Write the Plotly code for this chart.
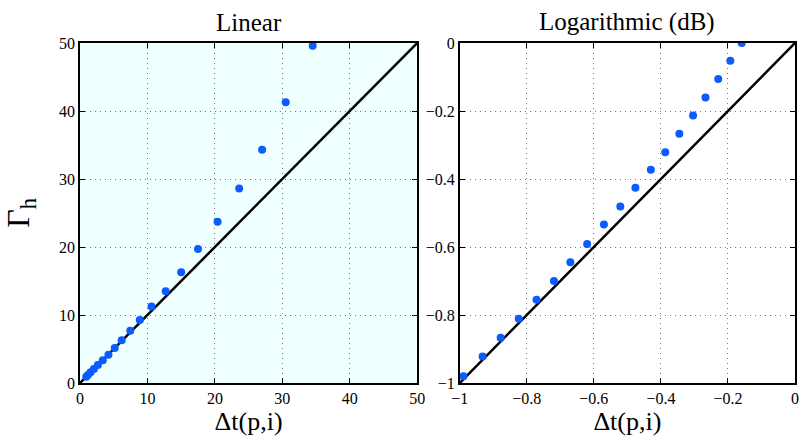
import plotly.graph_objects as go

# Linear panel data
lin_x = [0.93, 1.18, 1.57, 2.06, 2.65, 3.38, 4.22, 5.15, 6.18, 7.45, 8.87, 10.6, 12.7,
         15.0, 17.5, 20.4, 23.6, 27.0, 30.5, 34.5]
lin_y = [0.93, 1.18, 1.58, 2.06, 2.65, 3.35, 4.17, 5.16, 6.3, 7.67, 9.25, 11.25, 13.5,
         16.3, 19.7, 23.7, 28.6, 34.3, 41.3, 49.6]

# Logarithmic panel data
log_x = [-0.989, -0.932, -0.878, -0.824, -0.771, -0.719, -0.670, -0.620, -0.570, -0.521,
         -0.476, -0.430, -0.387, -0.345, -0.304, -0.267, -0.229, -0.193, -0.159]
log_y = [-0.980, -0.922, -0.867, -0.811, -0.755, -0.700, -0.645, -0.591, -0.534, -0.481,
         -0.426, -0.373, -0.321, -0.267, -0.213, -0.160, -0.106, -0.052, 0.0]

lin_ref = [0, 50]
log_ref = [-1, 0]

lin_ticks = [0, 10, 20, 30, 40, 50]
log_ticks = [-1, -0.8, -0.6, -0.4, -0.2, 0]

titles = ["Linear", "Logarithmic (dB)"]
xlabel = "Δt(p,i)"
ylabel = "Γ<sub>h</sub>"

FONT = "'Liberation Serif', 'Times New Roman', Times, serif"
BLUE = "#0a5cff"

fig = go.Figure()
fig.add_trace(go.Scatter(x=lin_ref, y=lin_ref, mode="lines",
                         line=dict(color="black", width=2.5), xaxis="x", yaxis="y"))
fig.add_trace(go.Scatter(x=lin_x, y=lin_y, mode="markers",
                         marker=dict(color=BLUE, size=8), xaxis="x", yaxis="y"))
fig.add_trace(go.Scatter(x=log_ref, y=log_ref, mode="lines",
                         line=dict(color="black", width=2.5), xaxis="x2", yaxis="y2"))
fig.add_trace(go.Scatter(x=log_x, y=log_y, mode="markers",
                         marker=dict(color=BLUE, size=8), xaxis="x2", yaxis="y2"))

axis_common = dict(
    showline=True, linecolor="black", linewidth=1.5, mirror="ticks",
    ticks="inside", ticklen=5, tickcolor="black", tickwidth=1,
    showgrid=True, gridcolor="#777777", griddash="1px,4px", gridwidth=1,
    zeroline=False, tickfont=dict(family=FONT, size=16, color="black"),
)

d1 = [0.0, 341 / 723]
d2 = [384 / 723, 1.0]

fig.update_layout(
    width=803, height=441,
    margin=dict(l=80, r=0, t=43, b=58),
    paper_bgcolor="white", plot_bgcolor="white",
    showlegend=False,
    font=dict(family=FONT, color="black"),
    xaxis=dict(axis_common, domain=d1, range=[0, 50], tickvals=lin_ticks, anchor="y",
               title=dict(text=xlabel, font=dict(family=FONT, size=26), standoff=2)),
    yaxis=dict(axis_common, range=[0, 50], tickvals=lin_ticks, anchor="x",
               title=dict(text=ylabel, font=dict(family=FONT, size=32), standoff=20)),
    xaxis2=dict(axis_common, domain=d2, range=[-1, 0], tickvals=log_ticks, anchor="y2",
                title=dict(text=xlabel, font=dict(family=FONT, size=26), standoff=2)),
    yaxis2=dict(axis_common, range=[-1, 0], tickvals=log_ticks, anchor="x2"),
    shapes=[dict(type="rect", xref="x domain", yref="y domain", x0=0, x1=1, y0=0, y1=1,
                 fillcolor="#f0ffff", line=dict(width=0), layer="below")],
    annotations=[
        dict(text=titles[0], xref="paper", yref="paper", x=(d1[0] + d1[1]) / 2, y=1,
             yshift=5, xanchor="center", yanchor="bottom", showarrow=False,
             font=dict(family=FONT, size=25, color="black")),
        dict(text=titles[1], xref="paper", yref="paper", x=(d2[0] + d2[1]) / 2, y=1,
             yshift=5, xanchor="center", yanchor="bottom", showarrow=False,
             font=dict(family=FONT, size=25, color="black")),
    ],
)

fig.write_html("out.html")
